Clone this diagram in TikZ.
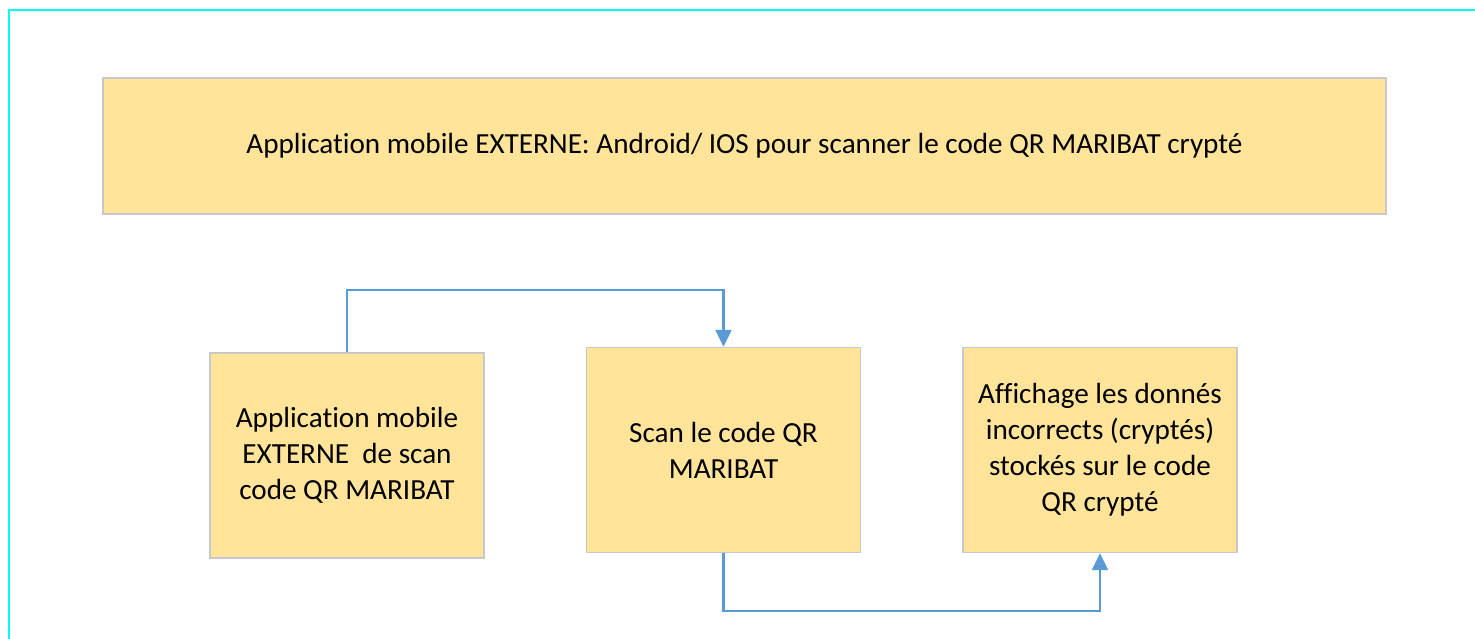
\documentclass[tikz,border=0pt]{standalone}
\usepackage{fontspec}
\setmainfont{Carlito}[RawFeature={-liga;-calt}]
\usetikzlibrary{arrows.meta}
\definecolor{boxfill}{HTML}{FFE49A}
\definecolor{boxline}{HTML}{C8C8C8}
\definecolor{linkblue}{HTML}{5B9BD5}
\definecolor{framecyan}{HTML}{00FFFF}
\tikzstyle{header} = [rectangle, minimum width=25.66cm, minimum height=2.72cm, inner sep=0pt, text centered, draw=boxline, line width=0.8pt, fill=boxfill, font=\fontsize{16.6}{19.8}\selectfont]
\tikzstyle{stepbox} = [rectangle, minimum width=5.48cm, minimum height=4.1cm, inner sep=0pt, align=center, draw=boxline, line width=0.8pt, fill=boxfill, font=\fontsize{16.6}{20.5}\selectfont]
\tikzstyle{link} = [draw=linkblue, line width=1.2pt, -{Triangle[width=0.32cm,length=0.34cm]}]
\begin{document}
\begin{tikzpicture}[x=0.02cm, y=-0.02cm]
            \useasboundingbox (0,0) rectangle (1475,639);
            \draw [framecyan, line width=1.2pt] (9,639) -- (9,10) -- (1475,10);

            \node [header] at (744.5,146) (title) {Application mobile EXTERNE: Android/ IOS pour scanner le code QR MARIBAT crypté};
            \node [stepbox] at (347,455.5) (app) {Application mobile\\EXTERNE~ de scan\\code QR MARIBAT};
            \node [stepbox] at (723.5,450) (scan) {Scan le code QR\\MARIBAT};
            \node [stepbox] at (1100,450) (show) {Affichage les donnés\\incorrects (cryptés)\\stockés sur le code\\QR crypté};

            \draw [link] (app.north) -- (347,290) -| (scan.north);
            \draw [link] (scan.south) -- (723.5,611) -| (show.south);
\end{tikzpicture}
\end{document}
